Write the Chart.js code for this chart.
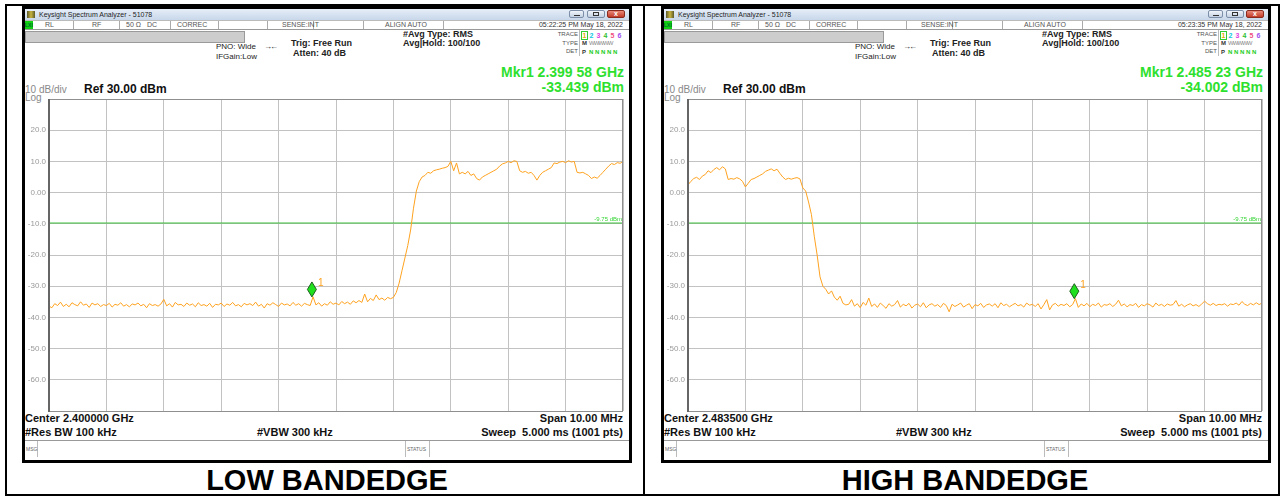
<!DOCTYPE html>
<html>
<head>
<meta charset="utf-8">
<title>Band edge</title>
<script src="https://cdn.jsdelivr.net/npm/chart.js@4.4.1/dist/chart.umd.min.js"></script>
<style>
  body { margin: 0; width: 1283px; height: 498px; position: relative; overflow: hidden; background: #fff;
         font-family: "Liberation Sans", Arial, sans-serif; }
  .a { position: absolute; white-space: pre; box-sizing: border-box; }
</style>
</head>
<body>
<script>
// --- sweep settings (GHz) ---
const lowSpan = [2.395, 2.405];
const highSpan = [2.4785, 2.4885];

// --- trace values (dBm), 201 points across the span ---
const lowTrace = [
  -36.4, -36.9, -35.6, -36.2, -35.1, -36.5, -35.8, -36.6, -35.3, -35.9,
  -36.3, -35.0, -36.1, -35.7, -36.8, -35.4, -36.0, -35.6, -36.5, -35.9,
  -36.2, -35.5, -36.7, -35.8, -36.1, -35.3, -36.4, -35.9, -36.6, -35.7,
  -36.0, -35.4, -36.3, -35.8, -36.9, -35.6, -36.2, -35.9, -36.4, -35.7,
  -34.2, -36.3, -35.6, -36.7, -35.2, -36.0, -35.8, -36.5, -35.4, -36.1,
  -35.7, -36.6, -35.3, -36.2, -35.9, -36.4, -35.5, -36.8, -35.8, -36.0,
  -35.4, -36.5, -35.7, -36.1, -35.2, -36.3, -35.9, -36.6, -35.5, -36.0,
  -35.6, -36.2, -35.1, -36.4, -35.8, -37.0, -35.6, -36.1, -35.3, -35.9,
  -36.5, -35.4, -36.0, -35.7, -36.3, -35.2, -36.1, -35.6, -36.4, -35.5,
  -35.9, -36.2, -33.4, -36.0, -35.3, -36.4, -35.6, -36.1, -35.0, -35.8,
  -35.4, -36.0, -34.9, -35.6, -35.1, -35.8, -34.7, -35.3, -34.6, -35.2,
  -32.5, -35.0, -33.9, -34.6, -32.8, -34.3, -33.8, -34.5, -33.6, -34.0,
  -33.6, -32.0, -29.0, -25.0, -21.0, -17.0, -12.0, -5.0, 0.5, 3.5,
  5.0, 5.5, 6.5, 6.2, 7.0, 7.3, 7.5, 7.8, 8.0, 8.4,
  10.0, 7.0, 9.5, 6.0, 6.5, 6.0, 6.8, 5.5, 6.0, 4.5,
  4.0, 5.0, 5.5, 6.0, 6.5, 7.0, 7.5, 8.5, 9.2, 9.5,
  10.0, 9.6, 10.2, 10.0, 7.0, 6.5, 6.8, 6.2, 6.5, 5.5,
  4.0, 5.5, 6.5, 7.0, 7.5, 8.0, 9.5, 9.3, 9.8, 10.0,
  9.6, 10.2, 9.8, 10.0, 6.5, 6.3, 6.5, 6.0, 5.5, 4.5,
  5.0, 4.6, 5.5, 6.5, 7.5, 8.5, 9.3, 9.0, 9.6, 9.4,
  10.0
];
const highTrace = [
  2.5, 3.6, 4.5, 4.9, 4.2, 5.3, 5.8, 7.0, 6.4, 7.4,
  8.0, 7.3, 8.3, 7.6, 4.2, 4.5, 4.3, 4.8, 4.4, 3.6,
  1.8, 3.0, 4.2, 4.5, 5.0, 5.5, 6.0, 6.8, 7.2, 7.6,
  7.0, 7.5, 6.2, 5.0, 4.2, 4.6, 4.3, 4.6, 4.8, 4.4,
  1.5, 0.5, -3.0, -7.0, -14.0, -20.0, -27.0, -30.0, -31.0, -32.5,
  -31.5, -33.5, -34.5, -33.2, -35.5, -36.0,
  -35.8, -34.3, -36.4, -35.6, -36.9, -35.2, -36.1, -33.8, -36.5, -35.7,
  -36.8, -35.4, -36.2, -37.1, -35.6, -36.4, -35.9, -34.6, -36.7, -35.8,
  -36.3, -35.5, -37.0, -36.1, -35.7, -36.6, -35.3, -36.9, -36.0, -35.6,
  -36.4, -35.9, -36.8, -35.5, -36.2, -38.2, -35.8, -36.5, -36.0, -35.4,
  -36.7, -36.1, -35.6, -37.2, -35.9, -36.3, -35.5, -36.8, -36.0, -35.7,
  -36.4, -35.6, -36.9, -35.3, -36.2, -35.8, -36.6, -36.0, -35.5, -36.3,
  -35.9, -36.7, -35.4, -36.1, -35.8, -36.5, -35.6, -37.3, -35.9, -34.3,
  -37.6, -36.0, -35.5, -36.4, -35.8, -36.2, -35.6, -36.6, -35.9, -34.0,
  -36.8, -35.7, -36.3, -35.5, -36.6, -35.8, -36.2, -35.4, -36.7, -35.9,
  -36.1, -35.6, -36.5, -35.8, -34.5, -36.3, -35.7, -36.6, -35.9, -36.2,
  -35.5, -36.8, -35.9, -36.3, -35.6, -36.0, -36.7, -35.4, -36.2, -35.8,
  -36.5, -35.7, -36.1, -35.9, -34.6, -36.4, -35.8, -36.6, -36.0, -35.6,
  -36.3, -35.9, -36.5, -35.7, -34.8, -35.6, -36.1, -35.5, -36.2, -35.8,
  -36.0, -35.6, -36.4, -35.7, -35.9, -35.4, -36.1, -34.9, -35.8, -36.2,
  -35.5, -36.0, -35.3, -35.9, -35.4
];

// marker 1 [GHz, dBm] and the display line (dBm)
const lowMarker = [2.39958, -33.439];
const highMarker = [2.48523, -34.002];
const displayLine = -9.75;

// amplitude scale: ref level and dB/div
const refLevel = 30;
const dbPerDiv = 10;
const numDivs = 10;

const panels = [
  { dx: 0, span: lowSpan, trace: lowTrace, marker: lowMarker,
    time: '05:22:25 PM May 18, 2022', mkr: 'Mkr1 2.399 58 GHz', amp: '-33.439 dBm',
    center: 'Center 2.400000 GHz', caption: 'LOW BANDEDGE', capX: 327 },
  { dx: 639, span: highSpan, trace: highTrace, marker: highMarker,
    time: '05:23:35 PM May 18, 2022', mkr: 'Mkr1 2.485 23 GHz', amp: '-34.002 dBm',
    center: 'Center 2.483500 GHz', caption: 'HIGH BANDEDGE', capX: 965 }
];

// ---- helpers for the screen chrome ----
function box(x, y, w, h, css) {
  const d = document.createElement('div');
  d.className = 'a';
  d.style.cssText += `left:${x}px;top:${y}px;width:${w}px;height:${h}px;` + (css || '');
  document.body.appendChild(d);
  return d;
}
function text(t, x, y, css, alignRight) {
  const d = document.createElement('div');
  d.className = 'a';
  d.textContent = t;
  d.style.cssText += (alignRight ? `right:${1283 - x}px;` : `left:${x}px;`) + `top:${y}px;` + (css || '');
  document.body.appendChild(d);
  return d;
}

// outer table
box(5, 4, 1275, 492, 'border:2px solid #000;');
box(643, 4, 2, 492, 'background:#000;');

const small = 'font-size:7px;line-height:10px;color:#555;';
const info = 'font-size:9px;line-height:10px;font-weight:bold;color:#222;';

// plugin: plot frame, display line label, marker diamond
const screenPlugin = {
  id: 'screen',
  afterDraw(chart) {
    const { ctx, chartArea: a } = chart;
    ctx.save();
    ctx.strokeStyle = '#8f8f8f';
    ctx.lineWidth = 1;
    ctx.strokeRect(a.left + 0.5, a.top + 0.5, a.right - a.left - 1, a.bottom - a.top);
    ctx.strokeStyle = '#666';
    ctx.lineWidth = 2;
    ctx.beginPath(); ctx.moveTo(a.left, a.top); ctx.lineTo(a.left, a.bottom + 1); ctx.stroke();

    // display line label
    const yl = chart.scales.y.getPixelForValue(displayLine);
    ctx.fillStyle = '#33d633';
    ctx.font = '6px "Liberation Sans", Arial';
    ctx.textAlign = 'right';
    ctx.textBaseline = 'alphabetic';
    ctx.fillText(displayLine.toFixed(2) + ' dBm', a.right - 1, yl - 2.5);

    // marker 1 diamond
    const p = chart.getDatasetMeta(2).data[0];
    ctx.beginPath();
    ctx.moveTo(p.x, p.y);
    ctx.lineTo(p.x + 4.5, p.y - 7.5);
    ctx.lineTo(p.x, p.y - 15);
    ctx.lineTo(p.x - 4.5, p.y - 7.5);
    ctx.closePath();
    ctx.fillStyle = '#1fe01f';
    ctx.fill();
    ctx.strokeStyle = '#1d5e1d';
    ctx.lineWidth = 1;
    ctx.stroke();
    ctx.fillStyle = '#ffa21f';
    ctx.font = '10px "Liberation Sans", Arial';
    ctx.textAlign = 'left';
    ctx.fillText('1', p.x + 6, p.y - 11);
    ctx.restore();
  }
};

panels.forEach((pn) => {
  const dx = pn.dx;
  // window frame
  box(22 + dx, 6, 610, 457, 'border:3px solid #000;background:#fff;');
  // title bar
  box(25 + dx, 9, 604, 11, 'background:linear-gradient(#e6eef8,#c8d7ea);');
  box(27 + dx, 11, 8, 7, 'background:linear-gradient(90deg,#5a5a2a,#c8b440,#5a5a2a);');
  text('Keysight Spectrum Analyzer - 51078', 39 + dx, 9.5, 'font-size:7px;line-height:10px;color:#1e1e1e;');
  box(569 + dx, 10, 15, 8, 'border:1px solid #7d8fa8;border-radius:2px;background:linear-gradient(#f2f6fb,#c3d1e3);');
  box(574 + dx, 15, 6, 1, 'background:#333;');
  box(587 + dx, 10, 18, 8, 'border:1px solid #7d8fa8;border-radius:2px;background:linear-gradient(#f2f6fb,#c3d1e3);');
  box(593 + dx, 12, 6, 4, 'border:1px solid #333;');
  box(607 + dx, 10, 18, 8, 'border:1px solid #8a2b20;border-radius:2px;background:linear-gradient(#e98a7a,#c23a26);');
  text('x', 614 + dx, 8.5, 'font-size:7px;line-height:9px;color:#fff;font-weight:bold;');

  // status row
  box(25 + dx, 20, 604, 10, 'border-top:1px solid #bbb;border-bottom:1px solid #999;');
  box(25 + dx, 21, 8, 8, 'background:#11d011;');
  text('LXI', 25 + dx, 21, 'font-size:5px;line-height:8px;color:#063;font-weight:bold;');
  [73, 119, 170, 218, 267, 313, 363, 443].forEach((x) => box(x + dx, 21, 1, 8, 'background:#aaa;'));
  text('RL', 45 + dx, 20, small);
  text('RF', 92 + dx, 20, small);
  text('50 Ω', 126 + dx, 20, small);
  text('DC', 147 + dx, 20, small);
  text('CORREC', 177 + dx, 20, small);
  text('SENSE:INT', 282 + dx, 20, small);
  text('ALIGN AUTO', 385 + dx, 20, small);
  text(pn.time, 623 + dx, 20, small + 'color:#333;', true);

  // setup block
  box(25 + dx, 31, 220, 12, 'background:#cdcdcd;border:1px solid #9a9a9a;');
  text('PNO: Wide', 216 + dx, 41.7, 'font-size:8px;line-height:10px;color:#222;');
  text('IFGain:Low', 216 + dx, 52.3, 'font-size:8px;line-height:10px;color:#222;');
  text('→←', 264 + dx, 41.5, 'font-size:8px;line-height:10px;color:#222;letter-spacing:-2px;');
  text('Trig: Free Run', 291 + dx, 37.7, info);
  text('Atten: 40 dB', 293 + dx, 48.3, info);
  text('#Avg Type: RMS', 403 + dx, 29.3, info);
  text('Avg|Hold: 100/100', 403 + dx, 38.3, info);

  // trace table
  const lab = 'font-size:6px;line-height:8px;color:#555;';
  text('TRACE', 578 + dx, 30, lab, true);
  text('TYPE', 578 + dx, 38.5, lab, true);
  text('DET', 578 + dx, 47, lab, true);
  box(579 + dx, 30, 46, 26, 'border-left:1px solid #bbb;');
  box(581 + dx, 30.5, 7, 9, 'border:1px solid #3c3;');
  const trCols = ['#e0b000', '#10c8e0', '#e040e0', '#30c030', '#f05080', '#a050f0'];
  trCols.forEach((c, k) => text(String(k + 1), 582.5 + k * 7 + dx, 30.5, `font-size:7px;line-height:9px;font-weight:bold;color:${c};`));
  text('M', 582 + dx, 39, 'font-size:6px;line-height:8px;font-weight:bold;color:#333;');
  text('WWWWW', 589 + dx, 39, 'font-size:6px;line-height:8px;color:#888;letter-spacing:-1px;');
  text('P', 582 + dx, 47.5, 'font-size:6px;line-height:8px;font-weight:bold;color:#333;');
  text('N N N N N', 589 + dx, 47.5, 'font-size:6px;line-height:8px;font-weight:bold;color:#2c2;');

  // marker readout
  const mk = 'font-size:14px;line-height:16px;font-weight:bold;color:#2ee02e;';
  text(pn.mkr, 624 + dx, 63.7, mk, true);
  text(pn.amp, 624 + dx, 79.3, mk, true);

  // scale info
  text('10 dB/div', 25 + dx, 83.8, 'font-size:10px;line-height:11px;color:#888;');
  text('Log', 25 + dx, 91.5, 'font-size:10px;line-height:11px;color:#888;');
  text('Ref 30.00 dBm', 84 + dx, 82.3, 'font-size:12px;line-height:14px;font-weight:bold;color:#111;');

  // bottom annotations
  const bt = 'font-size:11px;line-height:13px;font-weight:bold;color:#111;';
  text(pn.center, 25 + dx, 411.5, bt);
  text('Span 10.00 MHz', 623 + dx, 411.5, bt, true);
  text('#Res BW 100 kHz', 25 + dx, 425.5, bt);
  text('#VBW 300 kHz', 257 + dx, 425.5, bt);
  text('Sweep  5.000 ms (1001 pts)', 623 + dx, 425.5, bt, true);

  // message bar
  box(25 + dx, 440, 604, 20, 'border-top:1px solid #999;');
  box(37 + dx, 441, 1, 16, 'background:#bbb;');
  box(405 + dx, 441, 1, 16, 'background:#bbb;');
  box(429 + dx, 441, 1, 16, 'background:#bbb;');
  text('MSG', 26 + dx, 445, 'font-size:5px;line-height:8px;color:#666;');
  text('STATUS', 407 + dx, 445, 'font-size:5px;line-height:8px;color:#666;');

  // caption
  text(pn.caption, pn.capX - 200, 464, 'width:400px;text-align:center;font-size:29px;line-height:32px;font-weight:bold;color:#000;');

  // chart
  const cv = document.createElement('canvas');
  cv.width = 602;
  cv.height = 314;
  cv.style.cssText = `position:absolute;left:${22 + dx}px;top:98px;`;
  document.body.appendChild(cv);

  const step = (pn.span[1] - pn.span[0]) / (pn.trace.length - 1);
  const points = pn.trace.map((v, i) => ({ x: pn.span[0] + i * step, y: v }));

  new Chart(cv.getContext('2d'), {
    type: 'line',
    data: {
      datasets: [
        { data: points, borderColor: '#ffa21f', borderWidth: 1, pointRadius: 0, tension: 0 },
        { data: [{ x: pn.span[0], y: displayLine }, { x: pn.span[1], y: displayLine }],
          borderColor: '#3cbf3c', borderWidth: 1, pointRadius: 0 },
        { data: [{ x: pn.marker[0], y: pn.marker[1] }], pointRadius: 0, showLine: false }
      ]
    },
    options: {
      responsive: false,
      animation: false,
      devicePixelRatio: 1,
      layout: { padding: { top: 1, right: 1, bottom: 1, left: 0 } },
      plugins: { legend: { display: false }, tooltip: { enabled: false } },
      scales: {
        x: {
          type: 'linear',
          min: pn.span[0],
          max: pn.span[1],
          ticks: { display: false, count: numDivs + 1 },
          grid: { color: '#c2c2c2', drawTicks: false },
          border: { display: false }
        },
        y: {
          min: refLevel - dbPerDiv * numDivs,
          max: refLevel,
          afterFit: (scale) => {
            scale.width = 27;
            scale.paddingTop = 0;
            scale.paddingBottom = 0;
          },
          ticks: {
            stepSize: dbPerDiv,
            padding: 3,
            color: '#9a9a9a',
            font: { size: 8, family: '"Liberation Sans", Arial' },
            callback: (v) => {
              const r = Math.round(v);
              if (r === refLevel || r === refLevel - dbPerDiv * numDivs) return null;
              return r === 0 ? '0.00' : r.toFixed(1);
            }
          },
          grid: { color: '#c2c2c2', drawTicks: false },
          border: { display: false }
        }
      }
    },
    plugins: [screenPlugin]
  });
});
</script>
</body>
</html>
